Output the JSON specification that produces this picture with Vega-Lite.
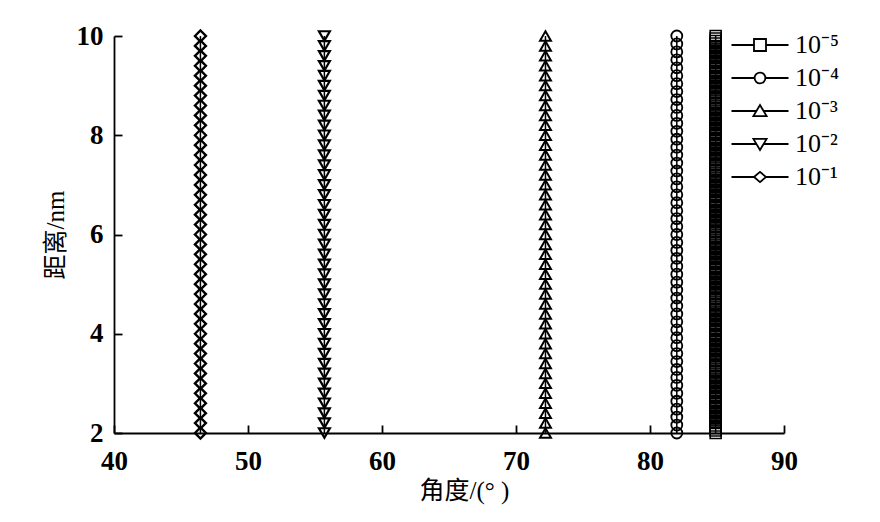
{
  "$schema": "https://vega.github.io/schema/vega-lite/v6.json",
  "autosize": {"type": "none"},
  "width": 670,
  "height": 397,
  "padding": {"left": 114, "top": 36, "right": 96, "bottom": 89},
  "background": "white",
  "config": {
    "view": {"stroke": null},
    "axis": {
      "grid": false,
      "domainColor": "black",
      "tickColor": "black",
      "domainWidth": 1.8,
      "tickWidth": 1.8,
      "tickSize": -8,
      "labelFlush": false,
      "labelFont": "Liberation Serif",
      "labelFontWeight": "bold",
      "labelFontSize": 27,
      "labelColor": "black",
      "titleFont": "Liberation Serif, Noto Sans CJK SC",
      "titleFontWeight": "normal",
      "titleFontSize": 25,
      "titleColor": "black"
    }
  },
  "data": {
    "values": [
      {"series":"10⁻⁵","angle":84.9,"distance":2},{"series":"10⁻⁵","angle":84.9,"distance":2.05},{"series":"10⁻⁵","angle":84.9,"distance":2.1},{"series":"10⁻⁵","angle":84.9,"distance":2.15},{"series":"10⁻⁵","angle":84.9,"distance":2.2},{"series":"10⁻⁵","angle":84.9,"distance":2.25},{"series":"10⁻⁵","angle":84.9,"distance":2.3},{"series":"10⁻⁵","angle":84.9,"distance":2.35},{"series":"10⁻⁵","angle":84.9,"distance":2.4},{"series":"10⁻⁵","angle":84.9,"distance":2.45},
      {"series":"10⁻⁵","angle":84.9,"distance":2.5},{"series":"10⁻⁵","angle":84.9,"distance":2.55},{"series":"10⁻⁵","angle":84.9,"distance":2.6},{"series":"10⁻⁵","angle":84.9,"distance":2.65},{"series":"10⁻⁵","angle":84.9,"distance":2.7},{"series":"10⁻⁵","angle":84.9,"distance":2.75},{"series":"10⁻⁵","angle":84.9,"distance":2.8},{"series":"10⁻⁵","angle":84.9,"distance":2.85},{"series":"10⁻⁵","angle":84.9,"distance":2.9},{"series":"10⁻⁵","angle":84.9,"distance":2.95},
      {"series":"10⁻⁵","angle":84.9,"distance":3},{"series":"10⁻⁵","angle":84.9,"distance":3.05},{"series":"10⁻⁵","angle":84.9,"distance":3.1},{"series":"10⁻⁵","angle":84.9,"distance":3.15},{"series":"10⁻⁵","angle":84.9,"distance":3.2},{"series":"10⁻⁵","angle":84.9,"distance":3.25},{"series":"10⁻⁵","angle":84.9,"distance":3.3},{"series":"10⁻⁵","angle":84.9,"distance":3.35},{"series":"10⁻⁵","angle":84.9,"distance":3.4},{"series":"10⁻⁵","angle":84.9,"distance":3.45},
      {"series":"10⁻⁵","angle":84.9,"distance":3.5},{"series":"10⁻⁵","angle":84.9,"distance":3.55},{"series":"10⁻⁵","angle":84.9,"distance":3.6},{"series":"10⁻⁵","angle":84.9,"distance":3.65},{"series":"10⁻⁵","angle":84.9,"distance":3.7},{"series":"10⁻⁵","angle":84.9,"distance":3.75},{"series":"10⁻⁵","angle":84.9,"distance":3.8},{"series":"10⁻⁵","angle":84.9,"distance":3.85},{"series":"10⁻⁵","angle":84.9,"distance":3.9},{"series":"10⁻⁵","angle":84.9,"distance":3.95},
      {"series":"10⁻⁵","angle":84.9,"distance":4},{"series":"10⁻⁵","angle":84.9,"distance":4.05},{"series":"10⁻⁵","angle":84.9,"distance":4.1},{"series":"10⁻⁵","angle":84.9,"distance":4.15},{"series":"10⁻⁵","angle":84.9,"distance":4.2},{"series":"10⁻⁵","angle":84.9,"distance":4.25},{"series":"10⁻⁵","angle":84.9,"distance":4.3},{"series":"10⁻⁵","angle":84.9,"distance":4.35},{"series":"10⁻⁵","angle":84.9,"distance":4.4},{"series":"10⁻⁵","angle":84.9,"distance":4.45},
      {"series":"10⁻⁵","angle":84.9,"distance":4.5},{"series":"10⁻⁵","angle":84.9,"distance":4.55},{"series":"10⁻⁵","angle":84.9,"distance":4.6},{"series":"10⁻⁵","angle":84.9,"distance":4.65},{"series":"10⁻⁵","angle":84.9,"distance":4.7},{"series":"10⁻⁵","angle":84.9,"distance":4.75},{"series":"10⁻⁵","angle":84.9,"distance":4.8},{"series":"10⁻⁵","angle":84.9,"distance":4.85},{"series":"10⁻⁵","angle":84.9,"distance":4.9},{"series":"10⁻⁵","angle":84.9,"distance":4.95},
      {"series":"10⁻⁵","angle":84.9,"distance":5},{"series":"10⁻⁵","angle":84.9,"distance":5.05},{"series":"10⁻⁵","angle":84.9,"distance":5.1},{"series":"10⁻⁵","angle":84.9,"distance":5.15},{"series":"10⁻⁵","angle":84.9,"distance":5.2},{"series":"10⁻⁵","angle":84.9,"distance":5.25},{"series":"10⁻⁵","angle":84.9,"distance":5.3},{"series":"10⁻⁵","angle":84.9,"distance":5.35},{"series":"10⁻⁵","angle":84.9,"distance":5.4},{"series":"10⁻⁵","angle":84.9,"distance":5.45},
      {"series":"10⁻⁵","angle":84.9,"distance":5.5},{"series":"10⁻⁵","angle":84.9,"distance":5.55},{"series":"10⁻⁵","angle":84.9,"distance":5.6},{"series":"10⁻⁵","angle":84.9,"distance":5.65},{"series":"10⁻⁵","angle":84.9,"distance":5.7},{"series":"10⁻⁵","angle":84.9,"distance":5.75},{"series":"10⁻⁵","angle":84.9,"distance":5.8},{"series":"10⁻⁵","angle":84.9,"distance":5.85},{"series":"10⁻⁵","angle":84.9,"distance":5.9},{"series":"10⁻⁵","angle":84.9,"distance":5.95},
      {"series":"10⁻⁵","angle":84.9,"distance":6},{"series":"10⁻⁵","angle":84.9,"distance":6.05},{"series":"10⁻⁵","angle":84.9,"distance":6.1},{"series":"10⁻⁵","angle":84.9,"distance":6.15},{"series":"10⁻⁵","angle":84.9,"distance":6.2},{"series":"10⁻⁵","angle":84.9,"distance":6.25},{"series":"10⁻⁵","angle":84.9,"distance":6.3},{"series":"10⁻⁵","angle":84.9,"distance":6.35},{"series":"10⁻⁵","angle":84.9,"distance":6.4},{"series":"10⁻⁵","angle":84.9,"distance":6.45},
      {"series":"10⁻⁵","angle":84.9,"distance":6.5},{"series":"10⁻⁵","angle":84.9,"distance":6.55},{"series":"10⁻⁵","angle":84.9,"distance":6.6},{"series":"10⁻⁵","angle":84.9,"distance":6.65},{"series":"10⁻⁵","angle":84.9,"distance":6.7},{"series":"10⁻⁵","angle":84.9,"distance":6.75},{"series":"10⁻⁵","angle":84.9,"distance":6.8},{"series":"10⁻⁵","angle":84.9,"distance":6.85},{"series":"10⁻⁵","angle":84.9,"distance":6.9},{"series":"10⁻⁵","angle":84.9,"distance":6.95},
      {"series":"10⁻⁵","angle":84.9,"distance":7},{"series":"10⁻⁵","angle":84.9,"distance":7.05},{"series":"10⁻⁵","angle":84.9,"distance":7.1},{"series":"10⁻⁵","angle":84.9,"distance":7.15},{"series":"10⁻⁵","angle":84.9,"distance":7.2},{"series":"10⁻⁵","angle":84.9,"distance":7.25},{"series":"10⁻⁵","angle":84.9,"distance":7.3},{"series":"10⁻⁵","angle":84.9,"distance":7.35},{"series":"10⁻⁵","angle":84.9,"distance":7.4},{"series":"10⁻⁵","angle":84.9,"distance":7.45},
      {"series":"10⁻⁵","angle":84.9,"distance":7.5},{"series":"10⁻⁵","angle":84.9,"distance":7.55},{"series":"10⁻⁵","angle":84.9,"distance":7.6},{"series":"10⁻⁵","angle":84.9,"distance":7.65},{"series":"10⁻⁵","angle":84.9,"distance":7.7},{"series":"10⁻⁵","angle":84.9,"distance":7.75},{"series":"10⁻⁵","angle":84.9,"distance":7.8},{"series":"10⁻⁵","angle":84.9,"distance":7.85},{"series":"10⁻⁵","angle":84.9,"distance":7.9},{"series":"10⁻⁵","angle":84.9,"distance":7.95},
      {"series":"10⁻⁵","angle":84.9,"distance":8},{"series":"10⁻⁵","angle":84.9,"distance":8.05},{"series":"10⁻⁵","angle":84.9,"distance":8.1},{"series":"10⁻⁵","angle":84.9,"distance":8.15},{"series":"10⁻⁵","angle":84.9,"distance":8.2},{"series":"10⁻⁵","angle":84.9,"distance":8.25},{"series":"10⁻⁵","angle":84.9,"distance":8.3},{"series":"10⁻⁵","angle":84.9,"distance":8.35},{"series":"10⁻⁵","angle":84.9,"distance":8.4},{"series":"10⁻⁵","angle":84.9,"distance":8.45},
      {"series":"10⁻⁵","angle":84.9,"distance":8.5},{"series":"10⁻⁵","angle":84.9,"distance":8.55},{"series":"10⁻⁵","angle":84.9,"distance":8.6},{"series":"10⁻⁵","angle":84.9,"distance":8.65},{"series":"10⁻⁵","angle":84.9,"distance":8.7},{"series":"10⁻⁵","angle":84.9,"distance":8.75},{"series":"10⁻⁵","angle":84.9,"distance":8.8},{"series":"10⁻⁵","angle":84.9,"distance":8.85},{"series":"10⁻⁵","angle":84.9,"distance":8.9},{"series":"10⁻⁵","angle":84.9,"distance":8.95},
      {"series":"10⁻⁵","angle":84.9,"distance":9},{"series":"10⁻⁵","angle":84.9,"distance":9.05},{"series":"10⁻⁵","angle":84.9,"distance":9.1},{"series":"10⁻⁵","angle":84.9,"distance":9.15},{"series":"10⁻⁵","angle":84.9,"distance":9.2},{"series":"10⁻⁵","angle":84.9,"distance":9.25},{"series":"10⁻⁵","angle":84.9,"distance":9.3},{"series":"10⁻⁵","angle":84.9,"distance":9.35},{"series":"10⁻⁵","angle":84.9,"distance":9.4},{"series":"10⁻⁵","angle":84.9,"distance":9.45},
      {"series":"10⁻⁵","angle":84.9,"distance":9.5},{"series":"10⁻⁵","angle":84.9,"distance":9.55},{"series":"10⁻⁵","angle":84.9,"distance":9.6},{"series":"10⁻⁵","angle":84.9,"distance":9.65},{"series":"10⁻⁵","angle":84.9,"distance":9.7},{"series":"10⁻⁵","angle":84.9,"distance":9.75},{"series":"10⁻⁵","angle":84.9,"distance":9.8},{"series":"10⁻⁵","angle":84.9,"distance":9.85},{"series":"10⁻⁵","angle":84.9,"distance":9.9},{"series":"10⁻⁵","angle":84.9,"distance":9.95},
      {"series":"10⁻⁵","angle":84.9,"distance":10},

      {"series":"10⁻⁴","angle":82.0,"distance":2},{"series":"10⁻⁴","angle":82.0,"distance":2.16},{"series":"10⁻⁴","angle":82.0,"distance":2.32},{"series":"10⁻⁴","angle":82.0,"distance":2.48},{"series":"10⁻⁴","angle":82.0,"distance":2.64},{"series":"10⁻⁴","angle":82.0,"distance":2.8},{"series":"10⁻⁴","angle":82.0,"distance":2.96},{"series":"10⁻⁴","angle":82.0,"distance":3.12},{"series":"10⁻⁴","angle":82.0,"distance":3.28},{"series":"10⁻⁴","angle":82.0,"distance":3.44},
      {"series":"10⁻⁴","angle":82.0,"distance":3.6},{"series":"10⁻⁴","angle":82.0,"distance":3.76},{"series":"10⁻⁴","angle":82.0,"distance":3.92},{"series":"10⁻⁴","angle":82.0,"distance":4.08},{"series":"10⁻⁴","angle":82.0,"distance":4.24},{"series":"10⁻⁴","angle":82.0,"distance":4.4},{"series":"10⁻⁴","angle":82.0,"distance":4.56},{"series":"10⁻⁴","angle":82.0,"distance":4.72},{"series":"10⁻⁴","angle":82.0,"distance":4.88},{"series":"10⁻⁴","angle":82.0,"distance":5.04},
      {"series":"10⁻⁴","angle":82.0,"distance":5.2},{"series":"10⁻⁴","angle":82.0,"distance":5.36},{"series":"10⁻⁴","angle":82.0,"distance":5.52},{"series":"10⁻⁴","angle":82.0,"distance":5.68},{"series":"10⁻⁴","angle":82.0,"distance":5.84},{"series":"10⁻⁴","angle":82.0,"distance":6},{"series":"10⁻⁴","angle":82.0,"distance":6.16},{"series":"10⁻⁴","angle":82.0,"distance":6.32},{"series":"10⁻⁴","angle":82.0,"distance":6.48},{"series":"10⁻⁴","angle":82.0,"distance":6.64},
      {"series":"10⁻⁴","angle":82.0,"distance":6.8},{"series":"10⁻⁴","angle":82.0,"distance":6.96},{"series":"10⁻⁴","angle":82.0,"distance":7.12},{"series":"10⁻⁴","angle":82.0,"distance":7.28},{"series":"10⁻⁴","angle":82.0,"distance":7.44},{"series":"10⁻⁴","angle":82.0,"distance":7.6},{"series":"10⁻⁴","angle":82.0,"distance":7.76},{"series":"10⁻⁴","angle":82.0,"distance":7.92},{"series":"10⁻⁴","angle":82.0,"distance":8.08},{"series":"10⁻⁴","angle":82.0,"distance":8.24},
      {"series":"10⁻⁴","angle":82.0,"distance":8.4},{"series":"10⁻⁴","angle":82.0,"distance":8.56},{"series":"10⁻⁴","angle":82.0,"distance":8.72},{"series":"10⁻⁴","angle":82.0,"distance":8.88},{"series":"10⁻⁴","angle":82.0,"distance":9.04},{"series":"10⁻⁴","angle":82.0,"distance":9.2},{"series":"10⁻⁴","angle":82.0,"distance":9.36},{"series":"10⁻⁴","angle":82.0,"distance":9.52},{"series":"10⁻⁴","angle":82.0,"distance":9.68},{"series":"10⁻⁴","angle":82.0,"distance":9.84},
      {"series":"10⁻⁴","angle":82.0,"distance":10},

      {"series":"10⁻³","angle":72.2,"distance":2},{"series":"10⁻³","angle":72.2,"distance":2.2},{"series":"10⁻³","angle":72.2,"distance":2.4},{"series":"10⁻³","angle":72.2,"distance":2.6},{"series":"10⁻³","angle":72.2,"distance":2.8},{"series":"10⁻³","angle":72.2,"distance":3},{"series":"10⁻³","angle":72.2,"distance":3.2},{"series":"10⁻³","angle":72.2,"distance":3.4},{"series":"10⁻³","angle":72.2,"distance":3.6},{"series":"10⁻³","angle":72.2,"distance":3.8},
      {"series":"10⁻³","angle":72.2,"distance":4},{"series":"10⁻³","angle":72.2,"distance":4.2},{"series":"10⁻³","angle":72.2,"distance":4.4},{"series":"10⁻³","angle":72.2,"distance":4.6},{"series":"10⁻³","angle":72.2,"distance":4.8},{"series":"10⁻³","angle":72.2,"distance":5},{"series":"10⁻³","angle":72.2,"distance":5.2},{"series":"10⁻³","angle":72.2,"distance":5.4},{"series":"10⁻³","angle":72.2,"distance":5.6},{"series":"10⁻³","angle":72.2,"distance":5.8},
      {"series":"10⁻³","angle":72.2,"distance":6},{"series":"10⁻³","angle":72.2,"distance":6.2},{"series":"10⁻³","angle":72.2,"distance":6.4},{"series":"10⁻³","angle":72.2,"distance":6.6},{"series":"10⁻³","angle":72.2,"distance":6.8},{"series":"10⁻³","angle":72.2,"distance":7},{"series":"10⁻³","angle":72.2,"distance":7.2},{"series":"10⁻³","angle":72.2,"distance":7.4},{"series":"10⁻³","angle":72.2,"distance":7.6},{"series":"10⁻³","angle":72.2,"distance":7.8},
      {"series":"10⁻³","angle":72.2,"distance":8},{"series":"10⁻³","angle":72.2,"distance":8.2},{"series":"10⁻³","angle":72.2,"distance":8.4},{"series":"10⁻³","angle":72.2,"distance":8.6},{"series":"10⁻³","angle":72.2,"distance":8.8},{"series":"10⁻³","angle":72.2,"distance":9},{"series":"10⁻³","angle":72.2,"distance":9.2},{"series":"10⁻³","angle":72.2,"distance":9.4},{"series":"10⁻³","angle":72.2,"distance":9.6},{"series":"10⁻³","angle":72.2,"distance":9.8},
      {"series":"10⁻³","angle":72.2,"distance":10},

      {"series":"10⁻²","angle":55.7,"distance":2},{"series":"10⁻²","angle":55.7,"distance":2.2},{"series":"10⁻²","angle":55.7,"distance":2.4},{"series":"10⁻²","angle":55.7,"distance":2.6},{"series":"10⁻²","angle":55.7,"distance":2.8},{"series":"10⁻²","angle":55.7,"distance":3},{"series":"10⁻²","angle":55.7,"distance":3.2},{"series":"10⁻²","angle":55.7,"distance":3.4},{"series":"10⁻²","angle":55.7,"distance":3.6},{"series":"10⁻²","angle":55.7,"distance":3.8},
      {"series":"10⁻²","angle":55.7,"distance":4},{"series":"10⁻²","angle":55.7,"distance":4.2},{"series":"10⁻²","angle":55.7,"distance":4.4},{"series":"10⁻²","angle":55.7,"distance":4.6},{"series":"10⁻²","angle":55.7,"distance":4.8},{"series":"10⁻²","angle":55.7,"distance":5},{"series":"10⁻²","angle":55.7,"distance":5.2},{"series":"10⁻²","angle":55.7,"distance":5.4},{"series":"10⁻²","angle":55.7,"distance":5.6},{"series":"10⁻²","angle":55.7,"distance":5.8},
      {"series":"10⁻²","angle":55.7,"distance":6},{"series":"10⁻²","angle":55.7,"distance":6.2},{"series":"10⁻²","angle":55.7,"distance":6.4},{"series":"10⁻²","angle":55.7,"distance":6.6},{"series":"10⁻²","angle":55.7,"distance":6.8},{"series":"10⁻²","angle":55.7,"distance":7},{"series":"10⁻²","angle":55.7,"distance":7.2},{"series":"10⁻²","angle":55.7,"distance":7.4},{"series":"10⁻²","angle":55.7,"distance":7.6},{"series":"10⁻²","angle":55.7,"distance":7.8},
      {"series":"10⁻²","angle":55.7,"distance":8},{"series":"10⁻²","angle":55.7,"distance":8.2},{"series":"10⁻²","angle":55.7,"distance":8.4},{"series":"10⁻²","angle":55.7,"distance":8.6},{"series":"10⁻²","angle":55.7,"distance":8.8},{"series":"10⁻²","angle":55.7,"distance":9},{"series":"10⁻²","angle":55.7,"distance":9.2},{"series":"10⁻²","angle":55.7,"distance":9.4},{"series":"10⁻²","angle":55.7,"distance":9.6},{"series":"10⁻²","angle":55.7,"distance":9.8},
      {"series":"10⁻²","angle":55.7,"distance":10},

      {"series":"10⁻¹","angle":46.45,"distance":2},{"series":"10⁻¹","angle":46.45,"distance":2.2},{"series":"10⁻¹","angle":46.45,"distance":2.4},{"series":"10⁻¹","angle":46.45,"distance":2.6},{"series":"10⁻¹","angle":46.45,"distance":2.8},{"series":"10⁻¹","angle":46.45,"distance":3},{"series":"10⁻¹","angle":46.45,"distance":3.2},{"series":"10⁻¹","angle":46.45,"distance":3.4},{"series":"10⁻¹","angle":46.45,"distance":3.6},{"series":"10⁻¹","angle":46.45,"distance":3.8},
      {"series":"10⁻¹","angle":46.45,"distance":4},{"series":"10⁻¹","angle":46.45,"distance":4.2},{"series":"10⁻¹","angle":46.45,"distance":4.4},{"series":"10⁻¹","angle":46.45,"distance":4.6},{"series":"10⁻¹","angle":46.45,"distance":4.8},{"series":"10⁻¹","angle":46.45,"distance":5},{"series":"10⁻¹","angle":46.45,"distance":5.2},{"series":"10⁻¹","angle":46.45,"distance":5.4},{"series":"10⁻¹","angle":46.45,"distance":5.6},{"series":"10⁻¹","angle":46.45,"distance":5.8},
      {"series":"10⁻¹","angle":46.45,"distance":6},{"series":"10⁻¹","angle":46.45,"distance":6.2},{"series":"10⁻¹","angle":46.45,"distance":6.4},{"series":"10⁻¹","angle":46.45,"distance":6.6},{"series":"10⁻¹","angle":46.45,"distance":6.8},{"series":"10⁻¹","angle":46.45,"distance":7},{"series":"10⁻¹","angle":46.45,"distance":7.2},{"series":"10⁻¹","angle":46.45,"distance":7.4},{"series":"10⁻¹","angle":46.45,"distance":7.6},{"series":"10⁻¹","angle":46.45,"distance":7.8},
      {"series":"10⁻¹","angle":46.45,"distance":8},{"series":"10⁻¹","angle":46.45,"distance":8.2},{"series":"10⁻¹","angle":46.45,"distance":8.4},{"series":"10⁻¹","angle":46.45,"distance":8.6},{"series":"10⁻¹","angle":46.45,"distance":8.8},{"series":"10⁻¹","angle":46.45,"distance":9},{"series":"10⁻¹","angle":46.45,"distance":9.2},{"series":"10⁻¹","angle":46.45,"distance":9.4},{"series":"10⁻¹","angle":46.45,"distance":9.6},{"series":"10⁻¹","angle":46.45,"distance":9.8},
      {"series":"10⁻¹","angle":46.45,"distance":10}
    ]
  },
  "encoding": {
    "x": {
      "field": "angle",
      "type": "quantitative",
      "scale": {"domain": [40, 90], "nice": false, "zero": false},
      "axis": {
        "values": [40, 50, 60, 70, 80, 90],
        "tickSize": -8,
        "labelPadding": 23,
        "title": "角度/(° )",
        "titleX": 350,
        "titleY": 45,
        "titleBaseline": "top"
      }
    },
    "y": {
      "field": "distance",
      "type": "quantitative",
      "scale": {"domain": [2, 10], "nice": false, "zero": false},
      "axis": {
        "values": [2, 4, 6, 8, 10],
        "tickSize": -8,
        "labelPadding": 19,
        "title": "距离/nm",
        "titleX": -59,
        "titleBaseline": "middle"
      }
    }
  },
  "layer": [
    {
      "mark": {"type": "line", "color": "black", "strokeWidth": 1.5},
      "encoding": {
        "detail": {"field": "series", "type": "nominal"},
        "order": {"field": "distance", "type": "quantitative"}
      }
    },
    {
      "mark": {"type": "point", "filled": false, "color": "black", "opacity": 1, "size": 120},
      "encoding": {
        "shape": {
          "field": "series",
          "type": "nominal",
          "scale": {
            "domain": ["10⁻⁵", "10⁻⁴", "10⁻³", "10⁻²", "10⁻¹"],
            "range": ["square", "circle", "triangle-up", "triangle-down", "diamond"]
          },
          "legend": null
        },
        "strokeWidth": {
          "field": "series",
          "type": "nominal",
          "scale": {
            "domain": ["10⁻⁵", "10⁻⁴", "10⁻³", "10⁻²", "10⁻¹"],
            "range": [1.6, 2.4, 1.6, 1.6, 1.6]
          },
          "legend": null
        }
      }
    },
    {
      "mark": {"type": "point", "filled": false, "color": "black", "strokeWidth": 1.8, "opacity": 0},
      "encoding": {
        "shape": {
          "field": "series",
          "type": "nominal",
          "scale": {
            "domain": ["10⁻⁵", "10⁻⁴", "10⁻³", "10⁻²", "10⁻¹"],
            "range": [
              "M-4.75,0H-1M1,0H4.75M-1,-1H1V1H-1Z",
              "M-4.75,0H-0.9M0.9,0H4.75M-0.9,0A0.9,0.9,0,1,0,0.9,0A0.9,0.9,0,1,0,-0.9,0Z",
              "M-4.75,0H-0.6M0.6,0H4.75M0,-1L1.1,0.85H-1.1Z",
              "M-4.75,0H-0.6M0.6,0H4.75M0,1L1.1,-0.85H-1.1Z",
              "M-4.75,0H-1M1,0H4.75M-1,0L0,-0.85L1,0L0,0.85Z"
            ]
          },
          "legend": {
            "title": null,
            "orient": "none",
            "legendX": 633,
            "legendY": -4,
            "padding": 0,
            "symbolSize": 144,
            "symbolOpacity": 1,
            "symbolStrokeWidth": 1.8,
            "symbolStrokeColor": "black",
            "symbolFillColor": "transparent",
            "labelFont": "Liberation Serif",
            "labelFontSize": 26,
            "labelColor": "black",
            "labelOffset": 22,
            "rowPadding": 7
          }
        }
      }
    }
  ],
  "resolve": {"scale": {"shape": "independent"}, "legend": {"shape": "independent"}}
}
